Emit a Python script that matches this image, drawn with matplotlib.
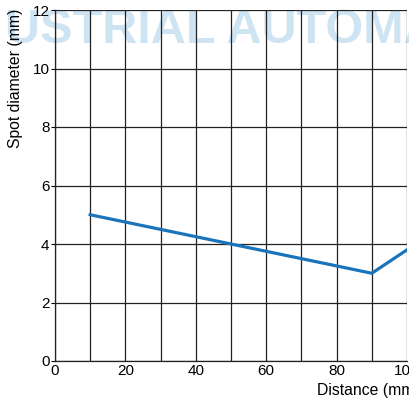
import matplotlib
matplotlib.use("Agg")
import matplotlib.pyplot as plt

distance = [10, 90, 100]
spot_diameter = [5.0, 3.0, 3.8]
x_ticks = [0, 20, 40, 60, 80, 100]
y_ticks = [0, 2, 4, 6, 8, 10, 12]

W, H = 409, 405
plt.rcParams['font.family'] = ['Liberation Sans', 'DejaVu Sans']
fig = plt.figure(figsize=(W / 100, H / 100), dpi=100)
fig.patch.set_facecolor('white')

# watermark
fig.text(5 / W, 1 - 43 / H, "USTRIAL AUTOMA", fontsize=35, fontweight='bold',
         color='#cfe4f3', ha='left', va='baseline', zorder=0)

ax = fig.add_axes([55 / W, (H - 361) / H, (407 - 55) / W, (361 - 10) / H], zorder=1)
ax.patch.set_alpha(0)
ax.plot(distance, spot_diameter, color='#1a74bb', lw=2.3, solid_joinstyle='miter', zorder=3)
ax.set_xlim(0, 100)
ax.set_ylim(0, 12)
ax.set_xticks(x_ticks)
ax.set_xticks(range(10, 100, 20), minor=True)
ax.set_yticks(y_ticks)
ax.grid(True, which='both', axis='x', color='#222222', lw=0.9)
ax.grid(True, which='major', axis='y', color='#222222', lw=0.9)
ax.tick_params(axis='x', which='both', length=0, labelsize=11, pad=2)
ax.tick_params(axis='y', length=3, labelsize=11, pad=1)
for s in ax.spines.values():
    s.set_color('#222222')
    s.set_linewidth(0.9)
ax.spines['top'].set_visible(False)
ax.spines['right'].set_visible(False)

fig.text(317 / W, 1 - 390 / H, "Distance (mm)", fontsize=11.3, ha='left', va='center')
fig.text(16 / W, 1 - 9 / H, "Spot diameter (mm)", fontsize=11.3, rotation=90,
         ha='center', va='top')

fig.savefig("out.png", dpi=100)
